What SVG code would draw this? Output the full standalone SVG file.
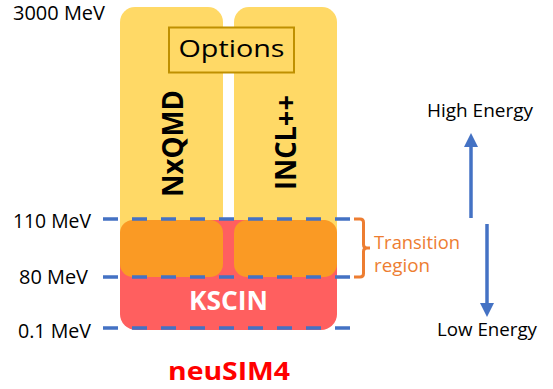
<svg xmlns="http://www.w3.org/2000/svg" width="553" height="389" viewBox="0 0 553 389">
<style>
text{font-family:"Open Sans","Noto Sans","Liberation Sans",sans-serif}
.lbl{font-size:20px;fill:#000}
.en{font-size:18px;fill:#000}
.col{fill:#FFD966}
.orange{fill:#FA9A24}
.dash{stroke:#4472C4;stroke-width:3.5;stroke-dasharray:15 14;fill:none}
.arrow{stroke:#4472C4;stroke-width:3.5;fill:none}
.tr{font-size:18px;fill:#ED7D31}
</style>
<defs>
<marker id="ah" markerWidth="4" markerHeight="4" refX="2" refY="2" orient="auto" markerUnits="strokeWidth">
<path d="M0,0 L4,2 L0,4 Z" fill="#4472C4"/>
</marker>
</defs>
<rect width="553" height="389" fill="#fff"/>
<g id="nxqmd">
<rect class="col" x="120" y="7" width="103" height="240" rx="15"/>
<text transform="translate(183,143.5) rotate(-90)" text-anchor="middle" font-size="29" font-weight="bold" fill="#000" textLength="107" lengthAdjust="spacingAndGlyphs">NxQMD</text>
</g>
<g id="incl">
<rect class="col" x="234" y="7" width="103" height="240" rx="15"/>
<text transform="translate(296,142.5) rotate(-90)" text-anchor="middle" font-size="29" font-weight="bold" fill="#000" textLength="95" lengthAdjust="spacingAndGlyphs">INCL++</text>
</g>
<g id="options">
<rect x="169" y="27.5" width="125" height="45" fill="#FFD966" stroke="#BF9000" stroke-width="2"/>
<text x="231.5" y="57" text-anchor="middle" font-size="24" fill="#000" textLength="106" lengthAdjust="spacingAndGlyphs">Options</text>
</g>
<g id="kscin">
<rect x="120" y="220" width="217" height="110" rx="16" fill="#FF5F5F"/>
<text x="228.5" y="310" text-anchor="middle" font-size="26" font-weight="bold" fill="#fff" textLength="79" lengthAdjust="spacingAndGlyphs">KSCIN</text>
</g>
<g id="transition">
<rect class="orange" x="120" y="220" width="103" height="57" rx="13"/>
<rect class="orange" x="234" y="220" width="103" height="57" rx="13"/>
</g>
<g id="connectors">
<line class="dash" x1="103" y1="219" x2="352" y2="219"/>
<line class="dash" x1="103" y1="277" x2="352" y2="277"/>
<line class="dash" x1="103" y1="328" x2="352" y2="328"/>
<path d="M354,219 H360 Q363.5,219 363.5,222.5 V244.5 Q363.5,248 367,248 H370 M367,248 Q363.5,248 363.5,251.5 V273.5 Q363.5,277 360,277 H354" stroke="#ED7D31" stroke-width="3" fill="none"/>
<line class="arrow" x1="471" y1="218" x2="471" y2="140" marker-end="url(#ah)"/>
<line class="arrow" x1="487" y1="224" x2="487" y2="310" marker-end="url(#ah)"/>
</g>
<g id="labels">
<text class="lbl" x="13" y="20" textLength="92" lengthAdjust="spacingAndGlyphs">3000 MeV</text>
<text class="lbl" x="13" y="227.5" textLength="78" lengthAdjust="spacingAndGlyphs">110 MeV</text>
<text class="lbl" x="19" y="283.5" textLength="69" lengthAdjust="spacingAndGlyphs">80 MeV</text>
<text class="lbl" x="18" y="337.5" textLength="73" lengthAdjust="spacingAndGlyphs">0.1 MeV</text>
<text class="tr" x="374" y="249" textLength="86" lengthAdjust="spacingAndGlyphs">Transition</text>
<text class="tr" x="374" y="272" textLength="56" lengthAdjust="spacingAndGlyphs">region</text>
<text class="en" x="427" y="116.5" textLength="106" lengthAdjust="spacingAndGlyphs">High Energy</text>
<text class="en" x="437" y="335.5" textLength="100" lengthAdjust="spacingAndGlyphs">Low Energy</text>
<text x="229" y="380" text-anchor="middle" font-size="25" font-weight="bold" fill="#FF0000" textLength="122" lengthAdjust="spacingAndGlyphs">neuSIM4</text>
</g>
</svg>
